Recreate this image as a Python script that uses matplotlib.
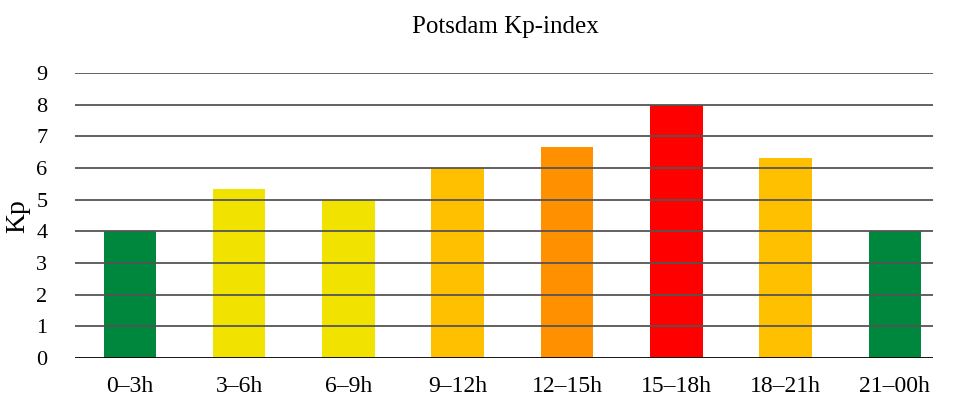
import matplotlib
matplotlib.use("Agg")
import matplotlib.pyplot as plt

intervals = ["0–3h", "3–6h", "6–9h", "9–12h", "12–15h", "15–18h", "18–21h", "21–00h"]
kp_values = [4, 5.33, 5, 6, 6.67, 8, 6.33, 4]
bar_colors = ["#00873E", "#F1E200", "#F1E200", "#FFC000", "#FF9100", "#FF0000", "#FFC000", "#00873E"]

plt.rcParams["font.family"] = ["Liberation Serif", "DejaVu Serif"]

fig = plt.figure(figsize=(9.63, 4.11), dpi=100)
ax = fig.add_axes([0.078, 0.129, 0.891, 0.693])

x = range(len(intervals))
ax.bar(x, kp_values, width=0.48, color=bar_colors, zorder=1)

# gridlines sit on top of the bars, like the original
for v in range(1, 10):
    ax.axhline(v, color="#555555", lw=1.3, zorder=2)
ax.axhline(0, color="black", lw=2, zorder=3)

ax.set_xlim(-0.5, 7.35)
ax.set_ylim(0, 9)
ax.set_yticks(range(10))
ax.set_xticks(list(x))
ax.set_xticklabels(intervals)
ax.tick_params(axis="y", length=0, pad=20, labelsize=16)
ax.tick_params(axis="x", length=0, pad=13, labelsize=17)
for s in ax.spines.values():
    s.set_visible(False)

ax.set_ylabel("Kp", fontsize=20, labelpad=4)
fig.text(0.525, 0.935, "Potsdam Kp-index", ha="center", va="center", fontsize=18)

fig.savefig("out.png", dpi=100)
